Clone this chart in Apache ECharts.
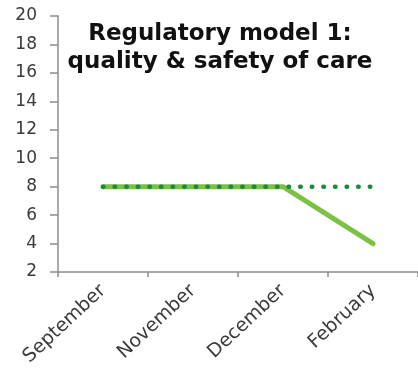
<!DOCTYPE html>
<html>
<head>
<meta charset="utf-8">
<script src="https://cdn.jsdelivr.net/npm/echarts@6/dist/echarts.min.js"></script>
<style>
  html, body { margin: 0; padding: 0; background: #fff; }
  #chart { width: 418px; height: 379px; }
</style>
</head>
<body>
<div id="chart"></div>
<script>
// Months shown on the category axis
const months = ['September', 'November', 'December', 'February'];
// Actual score (solid line) and baseline target (dotted line)
const actualScores = [8, 8, 8, 4];
const targetScores = [8, 8, 8, 8];
// Value axis range
const yMin = 2;
const yMax = 20;
const yStep = 2;

const chart = echarts.init(document.getElementById('chart'), null, { renderer: 'canvas' });

const axisGray = '#8c8c8c';
const labelColor = '#3a3a3a';
const font = 'DejaVu Sans';

chart.setOption({
  animation: false,
  title: {
    text: 'Regulatory model 1:\nquality & safety of care',
    left: 215,
    top: 15,
    textAlign: 'center',
    textStyle: {
      fontFamily: font,
      fontWeight: 'bold',
      fontSize: 23,
      lineHeight: 28,
      color: '#111'
    }
  },
  grid: { left: 58, top: 16, right: -3, bottom: 107 },
  xAxis: {
    type: 'category',
    data: months,
    boundaryGap: true,
    axisLine: { lineStyle: { color: axisGray, width: 1.5 } },
    axisTick: { show: true, length: 5, alignWithLabel: false, lineStyle: { color: axisGray, width: 1.5 } },
    axisLabel: {
      rotate: 43,
      margin: 16,
      fontFamily: font,
      fontSize: 19,
      color: labelColor,
      interval: 0
    },
    splitLine: { show: false }
  },
  yAxis: {
    type: 'value',
    min: yMin,
    max: yMax,
    interval: yStep,
    axisLine: { show: true, lineStyle: { color: axisGray, width: 1.5 } },
    axisTick: { show: true, inside: false, length: 8, lineStyle: { color: axisGray, width: 1.5 } },
    axisLabel: {
      margin: 21,
      fontFamily: font,
      fontSize: 17,
      color: labelColor
    },
    splitLine: { show: false }
  },
  series: [
    {
      name: 'Actual',
      type: 'line',
      data: actualScores,
      symbol: 'none',
      lineStyle: { color: '#7cc143', width: 5, cap: 'round', join: 'round' },
      z: 2
    },
    {
      name: 'Target',
      type: 'line',
      data: targetScores,
      symbol: 'none',
      lineStyle: { color: '#1b8a3c', width: 4.5, type: [0.5, 11.1], cap: 'round' },
      z: 3
    }
  ]
});
</script>
</body>
</html>
